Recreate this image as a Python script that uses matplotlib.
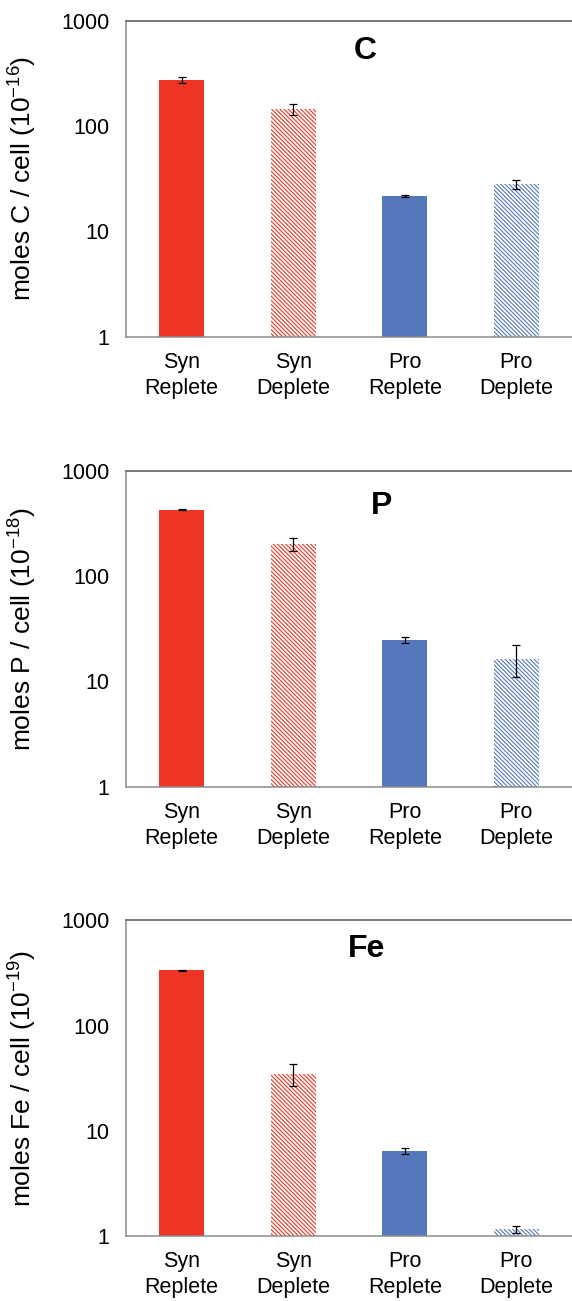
import matplotlib
matplotlib.use("Agg")
import matplotlib.pyplot as plt
import numpy as np

plt.rcParams['font.family'] = ['Liberation Sans', 'DejaVu Sans']
plt.rcParams['mathtext.fontset'] = 'custom'
plt.rcParams['mathtext.rm'] = 'Liberation Sans'
plt.rcParams['mathtext.it'] = 'Liberation Sans:italic'
plt.rcParams['mathtext.bf'] = 'Liberation Sans:bold'
plt.rcParams['hatch.linewidth'] = 0.8

# ---- data ----
categories = ["Syn\nReplete", "Syn\nDeplete", "Pro\nReplete", "Pro\nDeplete"]
panel_titles = ["C", "P", "Fe"]
ylabels = ["moles C / cell (10$^{-16}$)",
           "moles P / cell (10$^{-18}$)",
           "moles Fe / cell (10$^{-19}$)"]

c_values = [275, 145, 21.8, 28.1]
c_errors = [16, 18, 0.5, 2.9]
p_values = [427, 203, 24.8, 16.5]
p_errors = [5, 30, 1.6, 5.5]
fe_values = [334, 34.8, 6.45, 1.16]
fe_errors = [3, 8.4, 0.4, 0.09]

ytick_values = [1, 10, 100, 1000]
ytick_labels = ["1", "10", "100", "1000"]

bar_colors = ["#EE3524", "#EE3524", "#5577BC", "#5577BC"]
hatched = [False, True, False, True]

values_all = [c_values, p_values, fe_values]
errors_all = [c_errors, p_errors, fe_errors]
title_pos = [(0.536, 0.905), (0.574, 0.89), (0.54, 0.91)]

fig = plt.figure(figsize=(5.72, 13.01), dpi=100)
W, H = 572.0, 1301.0
left_px, right_px = 126.0, 572.0
ax_h = 315.7
bottoms_px = [336.7, 786.7, 1236.0]

x = np.arange(len(categories))
for i in range(3):
    ax = fig.add_axes([left_px / W, (H - bottoms_px[i]) / H,
                       (right_px - left_px) / W, ax_h / H])
    ax.set_yscale('log')
    ax.set_ylim(1, 1000)
    ax.set_xlim(-0.5, 3.5)
    for j in range(len(categories)):
        if hatched[j]:
            ax.bar(x[j], values_all[i][j], width=0.40, bottom=0,
                   facecolor='white', edgecolor=bar_colors[j],
                   hatch='\\\\\\\\\\\\\\\\', linewidth=0, zorder=2)
        else:
            ax.bar(x[j], values_all[i][j], width=0.40,
                   color=bar_colors[j], linewidth=0, zorder=2)
    ax.errorbar(x, values_all[i], yerr=errors_all[i], fmt='none',
                ecolor='black', elinewidth=0.9, capsize=3.2,
                capthick=0.9, zorder=3)
    ax.set_yticks(ytick_values)
    ax.set_yticklabels(ytick_labels)
    ax.yaxis.set_minor_locator(matplotlib.ticker.NullLocator())
    ax.set_xticks(x)
    ax.set_xticklabels(categories, linespacing=1.3)
    ax.tick_params(axis='y', length=0, pad=12, labelsize=15.5)
    ax.tick_params(axis='x', length=0, pad=11, labelsize=15.5)
    for s in ['left', 'bottom']:
        ax.spines[s].set_color('#8C8C8C')
        ax.spines[s].set_linewidth(1.1)
    ax.spines['top'].set_color('#6E6E6E')
    ax.spines['top'].set_linewidth(1.3)
    ax.spines['right'].set_visible(False)
    ax.text(title_pos[i][0], title_pos[i][1], panel_titles[i],
            transform=ax.transAxes, ha='center', va='center',
            fontsize=23, fontweight='bold')
    ax.set_ylabel(ylabels[i], fontsize=19)
    ax.yaxis.set_label_coords(-0.195, 0.5)

fig.savefig("out.png", dpi=100)
